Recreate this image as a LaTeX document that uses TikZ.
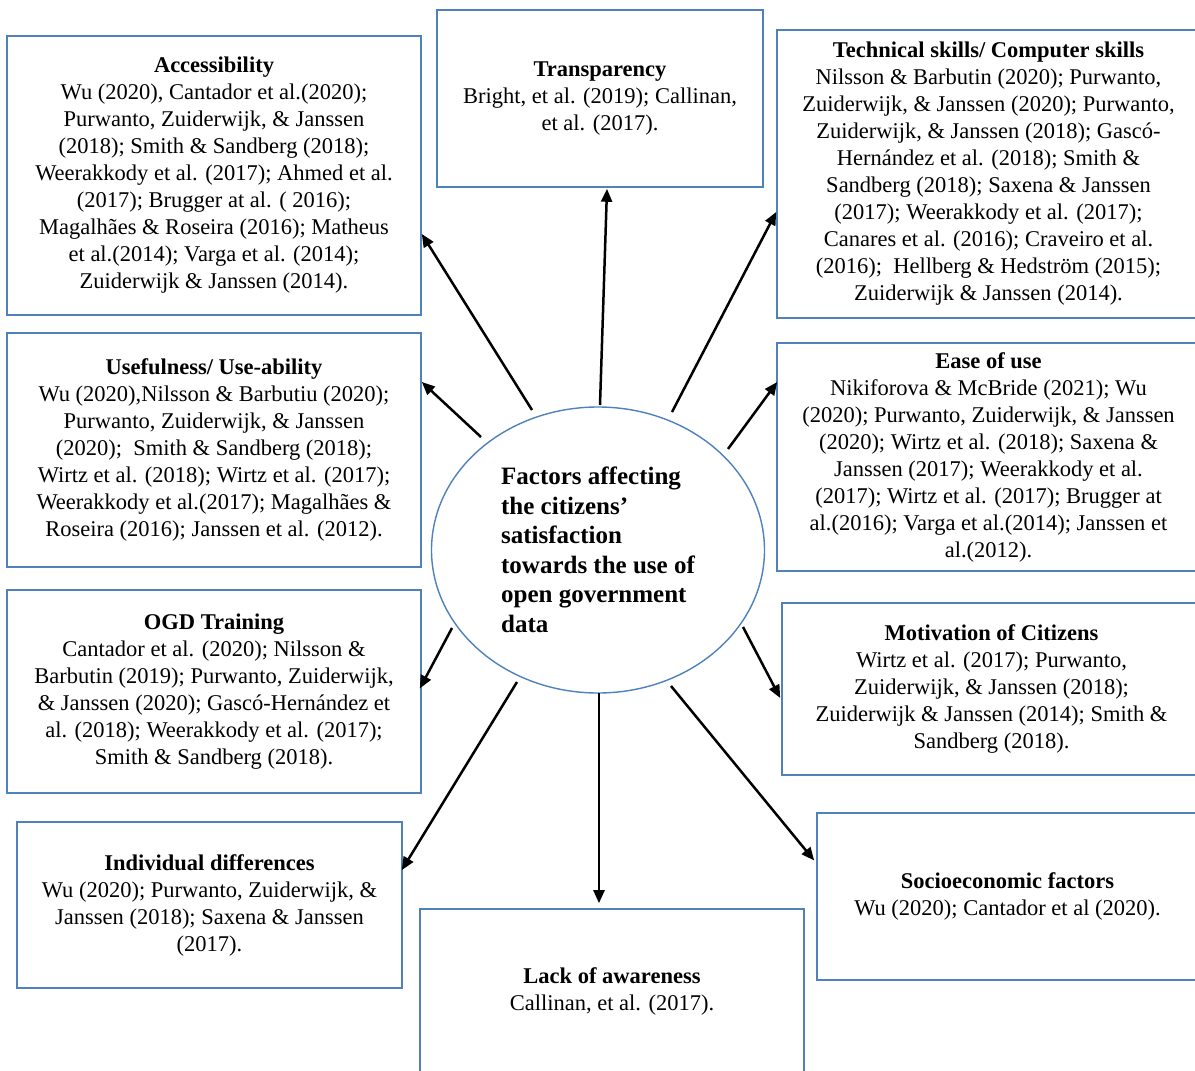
\documentclass[tikz,border=0pt]{standalone}
\usepackage{fontspec}
\setmainfont{Liberation Serif}
\usetikzlibrary{calc,arrows.meta,shapes.geometric}
\definecolor{boxblue}{RGB}{79,129,189}
\tikzset{
  factor/.style={draw=boxblue, line width=1.6pt, rectangle, align=center, inner sep=0pt,
    font=\fontsize{22.5}{27}\selectfont},
  centre/.style={draw=boxblue, line width=1.4pt, ellipse, align=left, inner sep=0pt,
    font=\fontsize{25}{29.5}\selectfont\bfseries},
  arr/.style={draw=black, line width=2.5pt, -{Triangle[length=13pt,width=11pt]}}
}
\begin{document}
\begin{tikzpicture}[x=1pt,y=-1pt]
\useasboundingbox (0,0) rectangle (1195,1071);
\fill[white] (0,0) rectangle (1195,1071);

\node[factor, minimum width=414, minimum height=279] (acc) at (214,175.5)
 {\textbf{Accessibility}\\ Wu (2020), Cantador et al.(2020);\\ Purwanto, Zuiderwijk, \& Janssen\\ (2018); Smith \& Sandberg (2018);\\ Weerakkody et al. (2017); Ahmed et al.\\ (2017); Brugger at al. ( 2016);\\ Magalhães \& Roseira (2016); Matheus\\ et al.(2014); Varga et al. (2014);\\ Zuiderwijk \& Janssen (2014).};

\node[factor, minimum width=326, minimum height=177] (tra) at (600,98.5)
 {\textbf{Transparency}\\ Bright, et al. (2019); Callinan,\\ et al. (2017).};

\node[factor, minimum width=423, minimum height=288] (tec) at (988.5,174)
 {\textbf{Technical skills/ Computer skills}\\ Nilsson \& Barbutin (2020); Purwanto,\\ Zuiderwijk, \& Janssen (2020); Purwanto,\\ Zuiderwijk, \& Janssen (2018); Gascó-\\ Hernández et al. (2018); Smith \&\\ Sandberg (2018); Saxena \& Janssen\\ (2017); Weerakkody et al. (2017);\\ Canares et al. (2016); Craveiro et al.\\ (2016);~ Hellberg \& Hedström (2015);\\ Zuiderwijk \& Janssen (2014).};

\node[factor, minimum width=414, minimum height=234] (use) at (214,450)
 {\textbf{Usefulness/ Use-ability}\\ Wu (2020),Nilsson \& Barbutiu (2020);\\ Purwanto, Zuiderwijk, \& Janssen\\ (2020);~ Smith \& Sandberg (2018);\\ Wirtz et al. (2018); Wirtz et al. (2017);\\ Weerakkody et al.(2017); Magalhães \&\\ Roseira (2016); Janssen et al. (2012).};

\node[factor, minimum width=423, minimum height=228] (eas) at (988.5,457)
 {\textbf{Ease of use}\\ Nikiforova \& McBride (2021); Wu\\ (2020); Purwanto, Zuiderwijk, \& Janssen\\ (2020); Wirtz et al. (2018); Saxena \&\\ Janssen (2017); Weerakkody et al.\\ (2017); Wirtz et al. (2017); Brugger at\\ al.(2016); Varga et al.(2014); Janssen et\\ al.(2012).};

\node[factor, minimum width=414, minimum height=203] (ogd) at (214,691.5)
 {\textbf{OGD Training}\\ Cantador et al. (2020); Nilsson \&\\ Barbutin (2019); Purwanto, Zuiderwijk,\\ \& Janssen (2020); Gascó-Hernández et\\ al. (2018); Weerakkody et al. (2017);\\ Smith \& Sandberg (2018).};

\node[factor, minimum width=419, minimum height=172] (mot) at (991.5,689)
 {\textbf{Motivation of Citizens}\\ Wirtz et al. (2017); Purwanto,\\ Zuiderwijk, \& Janssen (2018);\\ Zuiderwijk \& Janssen (2014); Smith \&\\ Sandberg (2018).};

\node[factor, minimum width=385, minimum height=166] (ind) at (209.5,905)
 {\textbf{Individual differences}\\ Wu (2020); Purwanto, Zuiderwijk, \&\\ Janssen (2018); Saxena \& Janssen\\ (2017).};

\node[factor, minimum width=384, minimum height=164] (lac) at (612,991)
 {\textbf{Lack of awareness}\\ Callinan, et al. (2017).};

\node[factor, minimum width=381, minimum height=167] (soc) at (1007.5,896.5)
 {\textbf{Socioeconomic factors}\\ Wu (2020); Cantador et al (2020).};

\node[centre, minimum width=333, minimum height=286] (ell) at (598,550)
 {Factors affecting\\ the citizens’\\ satisfaction\\ towards the use of\\ open government\\ data};

\draw[arr] ($(ell.center)+(-66,-140)$) -- ($(acc.east)+(0,58.5)$);
\draw[arr] ($(ell.center)+(2,-145)$) -- ($(tra.south)+(7,1)$);
\draw[arr] ($(ell.center)+(74,-138)$) -- ($(tec.west)+(0,38)$);
\draw[arr] ($(ell.center)+(-117,-113)$) -- ($(use.east)+(0,-68)$);
\draw[arr] ($(ell.center)+(130,-101)$) -- ($(eas.west)+(1,-75)$);
\draw[arr] ($(ell.center)+(-146,78)$) -- ($(ogd.east)+(-2,-3)$);
\draw[arr] ($(ell.center)+(145,77)$) -- ($(mot.west)+(-1,9)$);
\draw[arr] ($(ell.center)+(-81,132)$) -- ($(ind.east)+(-1,-35)$);
\draw[arr] ($(ell.center)+(1,143)$) -- ($(lac.north)+(-13,-5)$);
\draw[arr] ($(ell.center)+(73,136)$) -- ($(soc.west)+(-2,-36)$);
\end{tikzpicture}
\end{document}
